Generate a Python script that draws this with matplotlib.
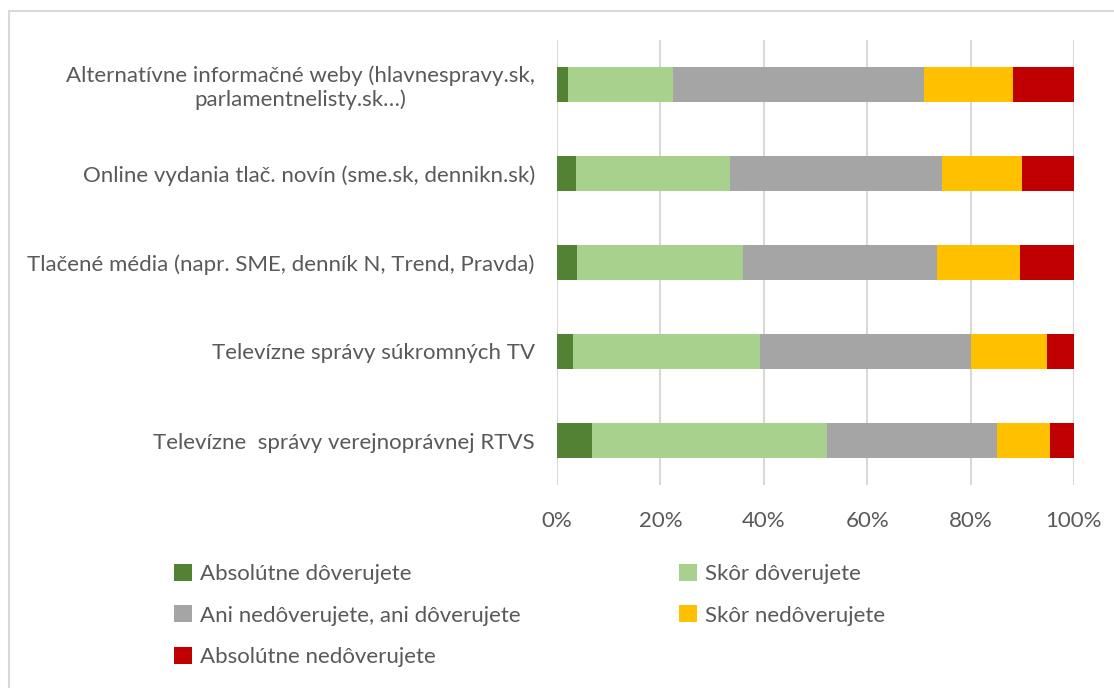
import numpy as np
import matplotlib
matplotlib.use("Agg")
import matplotlib.pyplot as plt
from matplotlib.patches import Rectangle

plt.rcParams['font.family'] = ['Lato', 'DejaVu Sans']

# categories, top to bottom
sources = ['Alternatívne informačné weby (hlavnespravy.sk,\nparlamentnelisty.sk…)',
           'Online vydania tlač. novín (sme.sk, dennikn.sk)',
           'Tlačené média (napr. SME, denník N, Trend, Pravda)',
           'Televízne správy súkromných TV',
           'Televízne  správy verejnoprávnej RTVS']

# shares in %
abs_trust = [2.1, 3.6, 3.8, 3.0, 6.8]
rather_trust = [20.4, 29.8, 32.2, 36.3, 45.4]
neutral = [48.5, 41.0, 37.6, 40.7, 32.9]
rather_distrust = [17.3, 15.6, 16.0, 14.8, 10.2]
abs_distrust = [11.7, 10.0, 10.4, 5.2, 4.7]

series = ['Absolútne dôverujete', 'Skôr dôverujete',
          'Ani nedôverujete, ani dôverujete', 'Skôr nedôverujete',
          'Absolútne nedôverujete']
colors = ['#548235', '#a9d18e', '#a5a5a5', '#ffc000', '#c00000']
ticks = [0, 20, 40, 60, 80, 100]

txt = '#595959'

fig = plt.figure(figsize=(11.14, 6.88), dpi=100)
ax = fig.add_axes([0.5, 0.295, 0.464, 0.647])

data = np.array([abs_trust, rather_trust, neutral, rather_distrust, abs_distrust])
data = data / data.sum(axis=0) * 100
y = np.arange(len(sources))
left = np.zeros(len(sources))
bars = []
for vals, name, col in zip(data, series, colors):
    b = ax.barh(y, vals, left=left, height=0.4, color=col, label=name, zorder=3)
    bars.append(b)
    left += vals

ax.set_xlim(0, 100)
ax.set_ylim(len(sources) - 0.5, -0.5)
ax.set_xticks(ticks)
ax.set_xticklabels([f'{t}%' for t in ticks])
ax.set_yticks(y)
ax.set_yticklabels(sources, multialignment='center')
ax.tick_params(axis='both', length=0, labelsize=16, colors=txt)
ax.tick_params(axis='y', pad=16)
ax.tick_params(axis='x', pad=19)
ax.grid(axis='x', color='#d9d9d9', linewidth=1.5, zorder=0)
for s in ax.spines.values():
    s.set_visible(False)

# legend filled row by row like Excel
order = [0, 2, 4, 1, 3]
leg = fig.legend([bars[i] for i in order], [series[i] for i in order],
                 ncol=2, loc='upper left', bbox_to_anchor=(0.138, 0.21),
                 frameon=False, fontsize=16, handlelength=0.8, handleheight=0.8,
                 handletextpad=0.4, columnspacing=7.1, labelspacing=0.97)
for t in leg.get_texts():
    t.set_color(txt)

# chart border
fig.patches.append(Rectangle((0.008, -0.05), 1.2, 1.034,
                             transform=fig.transFigure, fill=False,
                             edgecolor='#d9d9d9', linewidth=1.5))

fig.savefig('out.png', dpi=100)
